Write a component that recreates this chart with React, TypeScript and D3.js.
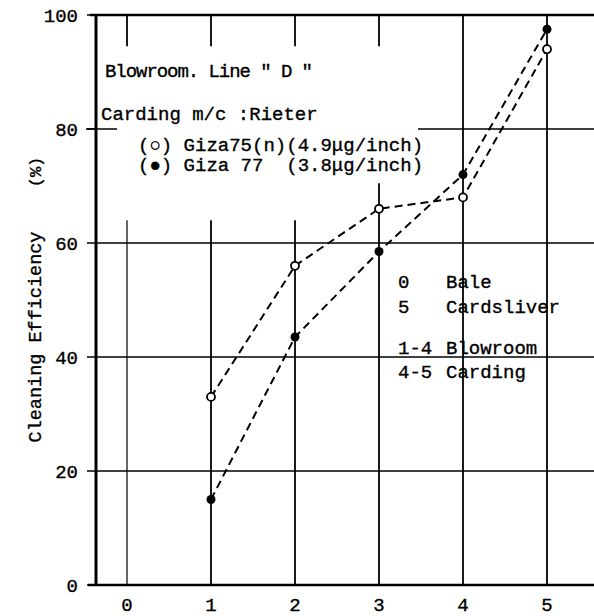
import React from "react";
import * as d3 from "d3";

const stages = [0, 1, 2, 3, 4, 5];
const giza75 = [
  { x: 1, y: 33 },
  { x: 2, y: 56 },
  { x: 3, y: 66 },
  { x: 4, y: 68 },
  { x: 5, y: 94 },
];
const giza77 = [
  { x: 1, y: 15 },
  { x: 2, y: 43.5 },
  { x: 3, y: 58.5 },
  { x: 4, y: 72 },
  { x: 5, y: 97.5 },
];
const yTicks = [0, 20, 40, 60, 80, 100];
const xTickLabels = ["0", "1", "2", "3", "4", "5"];
const noteLines = [
  ["0", "Bale"],
  ["5", "Cardsliver"],
  ["1-4", "Blowroom"],
  ["4-5", "Carding"],
];

const W = 594;
const H = 616;
const FONT = "'Liberation Mono', 'DejaVu Sans Mono', monospace";

export default function App() {
  const x = d3.scaleLinear().domain([0, 5]).range([127, 547]);
  const y = d3.scaleLinear().domain([0, 100]).range([585, 15]);
  const left = 96;
  const right = W;
  const line = d3
    .line<{ x: number; y: number }>()
    .x((d) => x(d.x))
    .y((d) => y(d.y));

  const vTop: Record<number, number> = { 0: 64, 1: 64, 2: 64, 3: 70.5, 4: 100, 5: 100 };
  const noteY = [288, 313, 354, 378];
  const txt = { fontSize: 19, stroke: "#000", strokeWidth: 0.35 } as const;

  return (
    <svg
      width={W}
      height={H}
      style={{ position: "absolute", left: 0, top: 0, background: "#fff" }}
      fontFamily={FONT}
    >
      <rect width={W} height={H} fill="#fff" />
      {[20, 40, 60].map((v) => (
        <line key={v} x1={left} x2={right} y1={y(v)} y2={y(v)} stroke="#000" strokeWidth={1.5} />
      ))}
      <line x1={418} x2={right} y1={y(80)} y2={y(80)} stroke="#000" strokeWidth={1.5} />
      <line x1={86} x2={117} y1={y(80)} y2={y(80)} stroke="#000" strokeWidth={1.5} />
      {stages.map((s) => (
        <g key={s}>
          <line x1={x(s)} x2={x(s)} y1={y(0)} y2={y(vTop[s])} stroke="#000" strokeWidth={s === 0 ? 1.2 : 1.8} />
          {vTop[s] < 100 && (
            <line x1={x(s)} x2={x(s)} y1={y(100)} y2={y(94.5)} stroke="#000" strokeWidth={1.8} />
          )}
        </g>
      ))}
      <line x1={left} x2={left} y1={y(100)} y2={y(0)} stroke="#000" strokeWidth={3} />
      <line x1={88} x2={right} y1={y(0)} y2={y(0)} stroke="#000" strokeWidth={2.5} />
      <line x1={90} x2={right} y1={y(100)} y2={y(100)} stroke="#000" strokeWidth={2.5} />
      {yTicks.map((v) => (
        <g key={v}>
          <line x1={87} x2={left} y1={y(v)} y2={y(v)} stroke="#000" strokeWidth={1.5} />
          <text x={78} y={y(v)} dy="0.35em" textAnchor="end" {...txt}>
            {v}
          </text>
        </g>
      ))}
      {stages.map((s, i) => (
        <text key={s} x={x(s)} y={611} textAnchor="middle" {...txt}>
          {xTickLabels[i]}
        </text>
      ))}
      <text transform={`translate(41,337) rotate(-90)`} textAnchor="middle" {...txt} fontSize={18.5}>
        Cleaning Efficiency
      </text>
      <text transform={`translate(41,172) rotate(-90)`} textAnchor="middle" {...txt} fontSize={17}>
        (%)
      </text>
      <path d={line(giza75) || ""} fill="none" stroke="#000" strokeWidth={2} strokeDasharray="8,5" />
      <path d={line(giza77) || ""} fill="none" stroke="#000" strokeWidth={2} strokeDasharray="8,5" />
      {giza75.map((d) => (
        <circle key={d.x} cx={x(d.x)} cy={y(d.y)} r={4} fill="#fff" stroke="#000" strokeWidth={1.8} />
      ))}
      {giza77.map((d) => (
        <circle key={d.x} cx={x(d.x)} cy={y(d.y)} r={4.5} fill="#000" />
      ))}
      <text x={105} y={77} {...txt} textLength={208}>Blowroom. Line " D "</text>
      <text x={101} y={120} {...txt}>Carding m/c :Rieter</text>
      <text x={138} y={151} {...txt}>(○) Giza75(n)(4.9μg/inch)</text>
      <text x={138} y={171} {...txt}>{"(●) Giza 77\u00A0\u00A0(3.8μg/inch)"}</text>
      {noteLines.map((n, i) => (
        <g key={i}>
          <text x={398} y={noteY[i]} {...txt}>
            {n[0]}
          </text>
          <text x={446} y={noteY[i]} {...txt}>
            {n[1]}
          </text>
        </g>
      ))}
    </svg>
  );
}
